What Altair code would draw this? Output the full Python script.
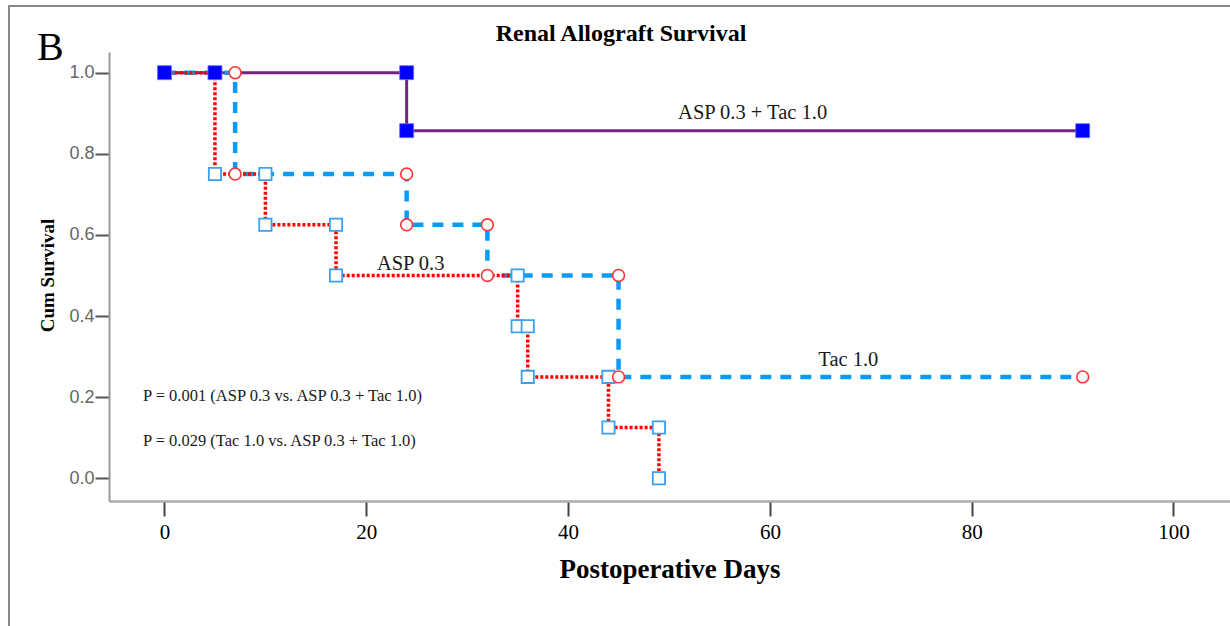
import altair as alt
import pandas as pd

# Kaplan-Meier step vertices (day, cumulative survival)
combo_days = [0, 24, 91]
combo_surv = [1.0, 0.857, 0.857]
tac_days = [0, 7, 24, 32, 45, 91]
tac_surv = [1.0, 0.75, 0.625, 0.5, 0.25, 0.25]
asp_days = [0, 5, 10, 17, 35, 36, 44, 49]
asp_surv = [1.0, 0.75, 0.625, 0.5, 0.375, 0.25, 0.125, 0.0]

# marker points
combo_mark_days = [0, 5, 24, 24, 91]
combo_mark_surv = [1.0, 1.0, 1.0, 0.857, 0.857]
tac_mark_days = [7, 7, 24, 24, 32, 32, 45, 45, 91]
tac_mark_surv = [1.0, 0.75, 0.75, 0.625, 0.625, 0.5, 0.5, 0.25, 0.25]
asp_mark_days = [5, 10, 10, 17, 17, 35, 35, 36, 36, 44, 44, 49, 49]
asp_mark_surv = [0.75, 0.75, 0.625, 0.625, 0.5, 0.5, 0.375, 0.375, 0.25, 0.25, 0.125, 0.125, 0.0]

x_ticks = [0, 20, 40, 60, 80, 100]
y_ticks = [0.0, 0.2, 0.4, 0.6, 0.8, 1.0]

label_texts = ["ASP 0.3 + Tac 1.0", "ASP 0.3", "Tac 1.0",
               "P = 0.001 (ASP 0.3 vs. ASP 0.3 + Tac 1.0)",
               "P = 0.029 (Tac 1.0 vs. ASP 0.3 + Tac 1.0)"]
label_days = [50.9, 21.05, 64.8, -2.13, -2.13]
label_surv = [0.885, 0.514, 0.277, 0.191, 0.0797]
label_sizes = [20.5, 20.5, 20.5, 16.5, 16.5]

SERIF = "Liberation Serif"

def frame(days, surv):
    return pd.DataFrame({"day": days, "surv": surv})

xs = alt.Scale(domain=[-5.5, 105.6], nice=False, zero=False)
ys = alt.Scale(domain=[-0.056, 1.051], nice=False, zero=False)

X = alt.X("day:Q", scale=xs, axis=alt.Axis(
    values=x_ticks, title="Postoperative Days", grid=False,
    labelFont=SERIF, labelFontSize=21, labelColor="#000", labelPadding=5,
    tickSize=15, tickColor="#444", tickWidth=2,
    domainColor="#aaa", domainWidth=2.5,
    titleFont=SERIF, titleFontSize=27, titleFontWeight="bold", titleColor="#000",
    titleBaseline="alphabetic", titleY=76))
Y = alt.Y("surv:Q", scale=ys, axis=alt.Axis(
    values=y_ticks, format=".1f", title="Cum Survival", grid=False,
    labelFont="Liberation Sans", labelFontSize=18, labelColor="#666", labelPadding=1,
    tickSize=14, tickColor="#555", tickWidth=2,
    domainColor="#999", domainWidth=2,
    titleFont=SERIF, titleFontSize=19, titleFontWeight="bold", titleColor="#000",
    titleBaseline="alphabetic", titleX=-56, titleY=223, titleAngle=270))

purple = alt.Chart(frame(combo_days, combo_surv)).mark_line(
    interpolate="step-after", color="#74237F", strokeWidth=3).encode(x=X, y=Y)
blue = alt.Chart(frame(tac_days, tac_surv)).mark_line(
    interpolate="step-after", color="#0A9BF5", strokeWidth=4.5, strokeDash=[11, 9]).encode(x="day:Q", y="surv:Q")
red = alt.Chart(frame(asp_days, asp_surv)).mark_line(
    interpolate="step-after", color="#FF0000", strokeWidth=3.5, strokeDash=[3, 2]).encode(x="day:Q", y="surv:Q")

hsq = alt.Chart(frame(asp_mark_days, asp_mark_surv)).mark_point(
    shape="square", size=150, filled=True, fill="white", stroke="#3AA0F0", strokeWidth=1.8, opacity=1
).encode(x="day:Q", y="surv:Q")
circ = alt.Chart(frame(tac_mark_days, tac_mark_surv)).mark_point(
    shape="circle", size=140, filled=True, fill="white", stroke="#FF3333", strokeWidth=1.6, opacity=1
).encode(x="day:Q", y="surv:Q")
fsq = alt.Chart(frame(combo_mark_days, combo_mark_surv)).mark_point(
    shape="square", size=196, filled=True, fill="#0000FF", stroke="#6f6fff", strokeWidth=0.8, opacity=1
).encode(x="day:Q", y="surv:Q")

labels = alt.Chart(pd.DataFrame({"day": label_days, "surv": label_surv,
                                 "text": label_texts, "size": label_sizes})).mark_text(
    font=SERIF, align="left", baseline="alphabetic", color="#1a1a1a"
).encode(x="day:Q", y="surv:Q", text="text:N", size=alt.Size("size:Q", scale=None, legend=None))

one = alt.Data(values=[{"a": 1}])
border = alt.Chart(one).mark_rect(filled=False, stroke="#888", strokeWidth=2).encode(
    x=alt.value(-100), x2=alt.value(1300), y=alt.value(-46), y2=alt.value(700))
title = alt.Chart(one).mark_text(font=SERIF, fontSize=24, fontWeight="bold", align="center",
                                 baseline="alphabetic", color="#000").encode(
    x=alt.value(512), y=alt.value(-11), text=alt.value("Renal Allograft Survival"))
letter = alt.Chart(one).mark_text(font=SERIF, fontSize=40, align="left",
                                  baseline="alphabetic", color="#000").encode(
    x=alt.value(-72), y=alt.value(8), text=alt.value("B"))

chart = alt.layer(purple, blue, red, hsq, circ, fsq, labels, border, title, letter).properties(
    width=1121, height=449,
    autosize=alt.AutoSizeParams(type="none"),
    padding={"left": 109, "top": 52, "right": 0, "bottom": 125},
    background="white",
).configure_view(stroke=None)

chart.save("out.html", embed_options={"renderer": "svg", "actions": False})
